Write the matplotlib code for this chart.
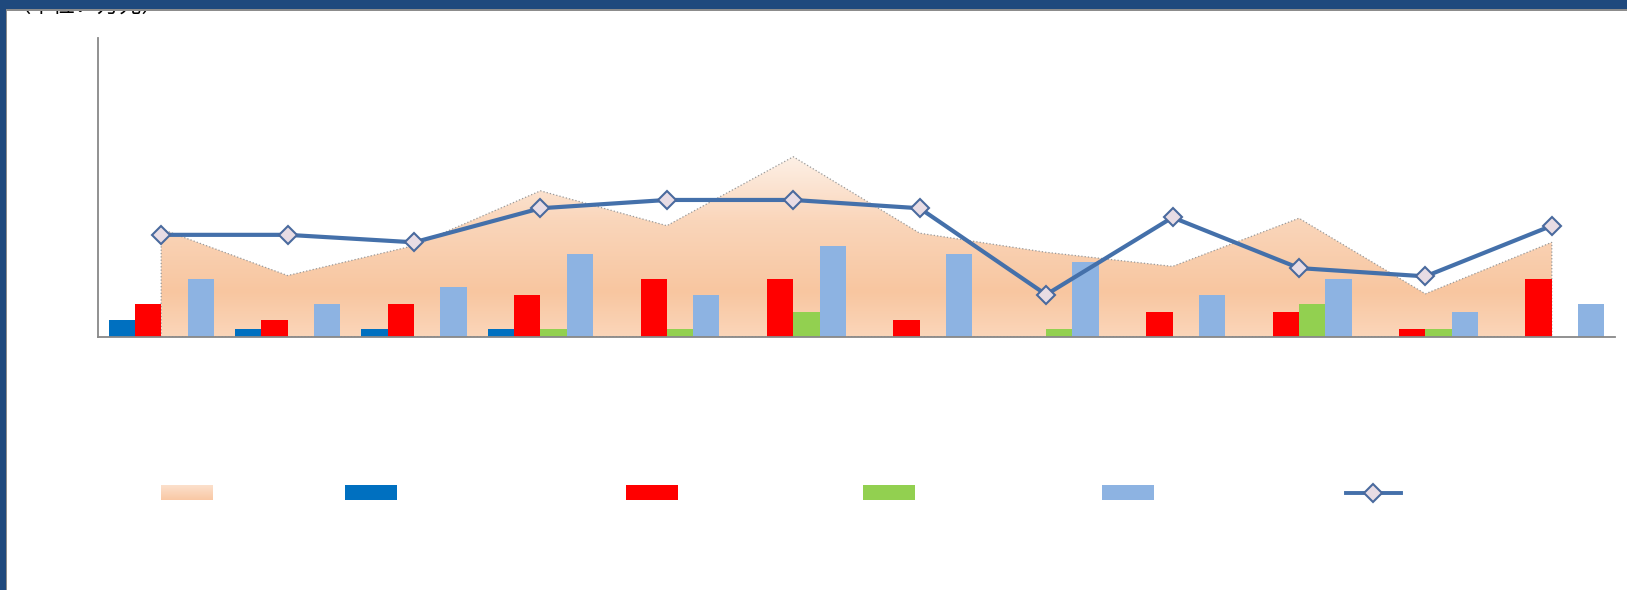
import numpy as np
import matplotlib
matplotlib.use("Agg")
import matplotlib.pyplot as plt
from matplotlib.patches import Polygon, Rectangle
from matplotlib.lines import Line2D

plt.rcParams['font.family'] = ['Noto Sans CJK SC', 'DejaVu Sans']

# values (one unit ~ 8.3 px)
groups = list(range(12))
area_vals = [13.0, 7.4, 11.0, 17.6, 13.4, 21.7, 12.5, 10.2, 8.5, 14.3, 5.2, 11.4]
blue_vals = [2, 1, 1, 1, 0, 0, 0, 0, 0, 0, 0, 0]
red_vals = [4, 2, 4, 5, 7, 7, 2, 0, 3, 3, 1, 7]
green_vals = [0, 0, 0, 1, 1, 3, 0, 1, 0, 4, 1, 0]
lblue_vals = [7, 4, 6, 10, 5, 11, 10, 9, 5, 7, 3, 4]
line_vals = [12.3, 12.3, 11.4, 15.5, 16.5, 16.5, 15.5, 5.1, 14.4, 8.3, 7.3, 13.4]

bar_colors = ['#0070C0', '#FF0000', '#92D050', '#8DB3E2']
line_color = '#4470AA'
W, H = 1627, 590


def gradient(stops, colors, n=256):
    # vertical colour ramp, row 0 = top
    t = np.linspace(0, 1, n)
    rgb = np.array([matplotlib.colors.to_rgb(c) for c in colors])
    out = np.stack([np.interp(t, stops, rgb[:, k]) for k in range(3)], axis=1)
    return out[:, None, :]


area_grad = gradient([0, 0.35, 0.75, 1], ['#FDF0E6', '#FAD6BB', '#F8C6A0', '#FBD6BA'])

fig = plt.figure(figsize=(W / 100, H / 100), dpi=100)
ax = fig.add_axes([98 / W, 1 - 337 / H, (1615 - 98) / W, (337 - 38) / H])

# area with gradient fill
x = np.array(groups, dtype=float)
verts = [(x[0], 0)] + list(zip(x, area_vals)) + [(x[-1], 0)]
poly = Polygon(verts, closed=True, facecolor='none', edgecolor='#9A9A9A',
               linestyle=':', linewidth=0.9, zorder=1.5)
ax.add_patch(poly)
im = ax.imshow(area_grad, extent=[x[0], x[-1], 0, max(area_vals)],
               aspect='auto', zorder=1, interpolation='bilinear')
im.set_clip_path(poly)

# bars
bw = 0.208
for i, (vals, col) in enumerate(zip([blue_vals, red_vals, green_vals, lblue_vals], bar_colors)):
    ax.bar(x + (i - 1.5) * bw, vals, width=bw, color=col, zorder=2, linewidth=0)

# line with diamonds
ax.plot(x, line_vals, color=line_color, linewidth=3.0, marker='D', markersize=9,
        markerfacecolor='#E8DCE4', markeredgecolor='#4A6A9E', markeredgewidth=1.5,
        zorder=3)

ax.set_xlim(-0.5, 11.5)
ax.set_ylim(0, 36)
ax.set_xticks([])
ax.set_yticks([])
for s in ['top', 'right']:
    ax.spines[s].set_visible(False)
for s in ['left', 'bottom']:
    ax.spines[s].set_color('#888888')
    ax.spines[s].set_linewidth(1.3)

# overlay in pixel coordinates: frame, clipped title, legend keys
ov = fig.add_axes([0, 0, 1, 1], zorder=5)
ov.set_xlim(0, W)
ov.set_ylim(H, 0)
ov.set_axis_off()

ov.text(8, 17, '（单位：万元）', fontsize=16, color='black', va='bottom', ha='left', zorder=1)
ov.add_patch(Rectangle((0, 0), W, 9, facecolor='#1F497D', edgecolor='none', zorder=10))
ov.add_patch(Rectangle((7, 9), W - 7, 1.8, facecolor='#8C8C8C', edgecolor='none', zorder=10))
ov.add_patch(Rectangle((0, 0), 6, H, facecolor='#1F497D', edgecolor='none', zorder=10))
ov.add_patch(Rectangle((6, 9), 1.3, H, facecolor='#8C8C8C', edgecolor='none', zorder=10))

ky0, ky1 = 485, 500
leg_grad = gradient([0, 1], ['#FCE0CC', '#F9C8A4'])
ov.imshow(leg_grad, extent=[161, 213, ky1, ky0], aspect='auto', zorder=2)
for (x0, x1), col in zip([(345, 397), (626, 678), (863, 915), (1102, 1154)], bar_colors):
    ov.add_patch(Rectangle((x0, ky0), x1 - x0, ky1 - ky0, facecolor=col, edgecolor='none', zorder=2))
ov.add_line(Line2D([1346, 1373, 1401], [(ky0 + ky1) / 2] * 3, color=line_color, linewidth=2.8,
                   marker='D', markersize=9, markevery=[1], markerfacecolor='#E8DCE4',
                   markeredgecolor='#4A6A9E', markeredgewidth=1.5, zorder=3))
ov.set_xlim(0, W)
ov.set_ylim(H, 0)

fig.savefig('out.png', dpi=100, facecolor='white')
